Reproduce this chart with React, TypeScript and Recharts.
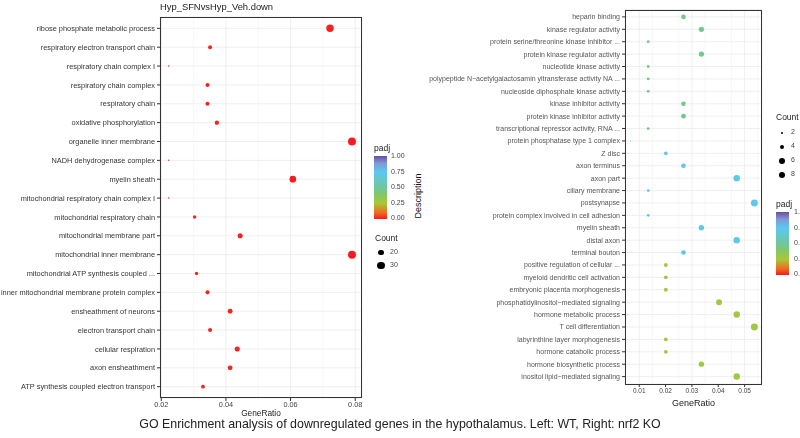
import React from 'react';
import { ScatterChart, Scatter, XAxis, YAxis, ZAxis, CartesianGrid, Cell, ReferenceLine } from 'recharts';

// left panel (WT)
const wtTerms = [
  'ribose phosphate metabolic process',
  'respiratory electron transport chain',
  'respiratory chain complex I',
  'respiratory chain complex',
  'respiratory chain',
  'oxidative phosphorylation',
  'organelle inner membrane',
  'NADH dehydrogenase complex',
  'myelin sheath',
  'mitochondrial respiratory chain complex I',
  'mitochondrial respiratory chain',
  'mitochondrial membrane part',
  'mitochondrial inner membrane',
  'mitochondrial ATP synthesis coupled ...',
  'inner mitochondrial membrane protein complex',
  'ensheathment of neurons',
  'electron transport chain',
  'cellular respiration',
  'axon ensheathment',
  'ATP synthesis coupled electron transport',
];
const wtRatio = [0.0722, 0.0351, 0.0223, 0.0343, 0.0343, 0.0372, 0.079, 0.0223, 0.0607, 0.0223, 0.0303, 0.0444, 0.079, 0.0309, 0.0343, 0.0413, 0.0351, 0.0435, 0.0413, 0.0329];
const wtCount = [33, 16, 10, 16, 16, 17, 36, 10, 28, 10, 14, 20, 36, 14, 16, 19, 16, 20, 19, 15];
const wtPadj = [0.01, 0.01, 0.02, 0.01, 0.01, 0.01, 0.0, 0.02, 0.0, 0.02, 0.01, 0.01, 0.0, 0.01, 0.01, 0.01, 0.01, 0.01, 0.01, 0.01];
const wtTicks = [0.02, 0.04, 0.06, 0.08];
const wtMinor = [0.03, 0.05, 0.07];
const wtCountLegend = [20, 30];

// right panel (nrf2 KO)
const koTerms = [
  'heparin binding',
  'kinase regulator activity',
  'protein serine/threonine kinase inhibitor ...',
  'protein kinase regulator activity',
  'nucleotide kinase activity',
  'polypeptide N\u2212acetylgalactosamin yltransferase activity NA ...',
  'nucleoside diphosphate kinase activity',
  'kinase inhibitor activity',
  'protein kinase inhibitor activity',
  'transcriptional repressor activity, RNA ...',
  'protein phosphatase type 1 complex',
  'Z disc',
  'axon terminus',
  'axon part',
  'ciliary membrane',
  'postsynapse',
  'protein complex involved in cell adhesion',
  'myelin sheath',
  'distal axon',
  'terminal bouton',
  'positive regulation of cellular ...',
  'myeloid dendritic cell activation',
  'embryonic placenta morphogenesis',
  'phosphatidylinositol\u2212mediated signaling',
  'hormone metabolic process',
  'T cell differentiation',
  'labyrinthine layer morphogenesis',
  'hormone catabolic process',
  'hormone biosynthetic process',
  'inositol lipid\u2212mediated signaling',
];
const koRatio = [
  0.0268, 0.0336, 0.0134, 0.0336, 0.0134, 0.0134, 0.0134, 0.0268, 0.0268, 0.0134,
  0.0067, 0.0201, 0.0268, 0.047, 0.0134, 0.0537, 0.0134, 0.0336, 0.047, 0.0268,
  0.0201, 0.0201, 0.0201, 0.0403, 0.047, 0.0537, 0.0201, 0.0201, 0.0336, 0.047,
];
const koCount = [4, 5, 2, 5, 2, 2, 2, 4, 4, 2, 1, 3, 4, 7, 2, 8, 2, 5, 7, 4, 3, 3, 3, 6, 7, 8, 3, 3, 5, 7];
const koPadj = [
  0.47, 0.47, 0.47, 0.47, 0.47, 0.47, 0.47, 0.47, 0.47, 0.47,
  0.73, 0.73, 0.73, 0.73, 0.73, 0.73, 0.73, 0.73, 0.73, 0.73,
  0.28, 0.28, 0.28, 0.28, 0.28, 0.28, 0.28, 0.28, 0.28, 0.28,
];
const koTicks = [0.01, 0.02, 0.03, 0.04, 0.05];
const koMinor = [0.015, 0.025, 0.035, 0.045, 0.055];
const koCountLegend = [2, 4, 6, 8];

const padjLabels = ['1.00', '0.75', '0.50', '0.25', '0.00'];

const padjStops: [number, string][] = [
  [0, '#F51B20'],
  [0.1, '#F06A22'],
  [0.25, '#A6C936'],
  [0.4, '#80C76C'],
  [0.5, '#6FC79C'],
  [0.75, '#5BC8F1'],
  [0.88, '#7F9BD8'],
  [1, '#6A4FA5'],
];

const hex = (c: string) => [1, 3, 5].map((i) => parseInt(c.slice(i, i + 2), 16));
const padjColor = (v: number) => {
  for (let i = 1; i < padjStops.length; i++) {
    const [p1, c1] = padjStops[i];
    const [p0, c0] = padjStops[i - 1];
    if (v <= p1) {
      const t = (v - p0) / (p1 - p0);
      const a = hex(c0);
      const b = hex(c1);
      return `rgb(${a.map((x, k) => Math.round(x + (b[k] - x) * t)).join(',')})`;
    }
  }
  return padjStops[padjStops.length - 1][1];
};
const gradient = `linear-gradient(to top, ${padjStops.map(([p, c]) => `${c} ${p * 100}%`).join(', ')})`;

const wtRows = wtTerms.map((term, i) => ({ term, ratio: wtRatio[i], count: wtCount[i], padj: wtPadj[i] }));
const koRows = koTerms.map((term, i) => ({ term, ratio: koRatio[i], count: koCount[i], padj: koPadj[i] }));

const FONT = '"Liberation Sans", Arial, Helvetica, sans-serif';
// own compositing layer -> grayscale text antialiasing
const LAYER: React.CSSProperties = { willChange: 'transform' };

// same count -> area mapping as the ZAxis, used for legend keys
const wtZ = { domain: [10, 36], range: [1.8, 50] };
const koZ = { domain: [1, 8], range: [0.8, 38] };
const dotDiam = (z: { domain: number[]; range: number[] }, v: number) => {
  const area = z.range[0] + ((v - z.domain[0]) / (z.domain[1] - z.domain[0])) * (z.range[1] - z.range[0]);
  return 2 * Math.sqrt(area / Math.PI);
};

const makeYTick = (fontSize: number, fill: string) => (props: any) => {
  const { x, y, payload } = props;
  return (
    <text x={x} y={y + fontSize * 0.35} textAnchor="end" fontSize={fontSize} fill={fill} fontFamily={FONT}>
      {payload.value}
    </text>
  );
};

const Frame = ({ left, top, width, height }: { left: number; top: number; width: number; height: number }) => (
  <div
    style={{
      position: 'absolute', left, top, width, height, boxSizing: 'border-box',
      border: '1px solid #333', pointerEvents: 'none',
    }}
  />
);

const ColorBar = ({ left, top, labelLeft }: { left: number; top: number; labelLeft: number }) => (
  <>
    <div style={{ position: 'absolute', left, top: top - 13, fontSize: 8.5, color: '#222', ...LAYER }}>padj</div>
    <div style={{ position: 'absolute', left, top, width: 13, height: 63, background: gradient }} />
    {padjLabels.map((l, i) => (
      <div key={l} style={{ position: 'absolute', left: labelLeft, top: top - 4 + i * 15.5, fontSize: 7, color: '#444', ...LAYER }}>{l}</div>
    ))}
  </>
);

const CountLegend = ({ left, top, values, z, first, step }: { left: number; top: number; values: number[]; z: any; first: number; step: number }) => (
  <>
    <div style={{ position: 'absolute', left, top, fontSize: 8.5, color: '#222', ...LAYER }}>Count</div>
    {values.map((v, i) => {
      const d = dotDiam(z, v);
      const cy = top + first + i * step;
      return (
        <React.Fragment key={v}>
          <div style={{ position: 'absolute', left: left + 6 - d / 2, top: cy - d / 2, width: d, height: d, borderRadius: '50%', background: '#000' }} />
          <div style={{ position: 'absolute', left: left + 15, top: cy - 5, fontSize: 7, color: '#444', ...LAYER }}>{v}</div>
        </React.Fragment>
      );
    })}
  </>
);

export default function App() {
  return (
    <div style={{ position: 'fixed', left: 0, top: 0, width: 800, height: 438, background: '#fff', fontFamily: FONT, overflow: 'hidden' }}>
      <div style={{ position: 'absolute', left: 160, top: 1, fontSize: 9.4, color: '#222', ...LAYER }}>Hyp_SFNvsHyp_Veh.down</div>

      <div style={{ position: 'absolute', left: 0, top: 0, ...LAYER }}>
        <ScatterChart width={370} height={430} margin={{ top: 17, right: 8, left: 0, bottom: 14 }}>
          <CartesianGrid stroke="#EBEBEB" strokeWidth={0.8} />
          {wtMinor.map((v) => (
            <ReferenceLine key={v} x={v} stroke="#F2F2F2" strokeWidth={0.6} />
          ))}
          <XAxis
            type="number"
            dataKey="ratio"
            domain={[0.0196, 0.0821]}
            ticks={wtTicks}
            tickFormatter={(v: number) => v.toFixed(2)}
            axisLine={false}
            tickLine={{ stroke: '#333' }}
            tickSize={3}
            tickMargin={1}
            height={18}
            tick={{ fontSize: 7.3, fill: '#444', fontFamily: FONT }}
            label={{ value: 'GeneRatio', position: 'insideBottom', offset: 0, fontSize: 8.3, fill: '#222', fontFamily: FONT }}
          />
          <YAxis
            type="category"
            dataKey="term"
            reversed
            width={160}
            axisLine={false}
            tickLine={{ stroke: '#333' }}
            tickSize={3}
            tickMargin={2}
            padding={{ top: 1.9, bottom: 1.9 }}
            interval={0}
            tick={makeYTick(7.4, '#333')}
          />
          <ZAxis type="number" dataKey="count" domain={wtZ.domain} range={wtZ.range} />
          <Scatter data={wtRows} shape="circle" isAnimationActive={false}>
            {wtRows.map((r, i) => (
              <Cell key={i} fill={padjColor(r.padj)} />
            ))}
          </Scatter>
        </ScatterChart>
      </div>
      <Frame left={160} top={17} width={202} height={381} />

      <ColorBar left={374} top={156} labelLeft={391} />
      <CountLegend left={375} top={233} values={wtCountLegend} z={wtZ} first={19.5} step={13} />

      <div
        style={{
          position: 'absolute', left: 418, top: 196, fontSize: 9, color: '#111',
          transform: 'translate(-50%, -50%) rotate(-90deg)', whiteSpace: 'nowrap',
        }}
      >
        Description
      </div>

      <div style={{ position: 'absolute', left: 420, top: 0, ...LAYER }}>
        <ScatterChart width={345} height={410} margin={{ top: 9.5, right: 3, left: 0, bottom: 4 }}>
          <CartesianGrid stroke="#EBEBEB" strokeWidth={0.8} />
          {koMinor.map((v) => (
            <ReferenceLine key={v} x={v} stroke="#F2F2F2" strokeWidth={0.6} />
          ))}
          <XAxis
            type="number"
            dataKey="ratio"
            domain={[0.0046, 0.0566]}
            ticks={koTicks}
            tickFormatter={(v: number) => v.toFixed(2)}
            axisLine={false}
            tickLine={{ stroke: '#333' }}
            tickSize={3}
            tickMargin={1}
            height={22}
            tick={{ fontSize: 6.5, fill: '#444', fontFamily: FONT }}
            label={{ value: 'GeneRatio', position: 'insideBottom', offset: 0, fontSize: 9, fill: '#222', fontFamily: FONT }}
          />
          <YAxis
            type="category"
            dataKey="term"
            reversed
            width={205}
            axisLine={false}
            tickLine={{ stroke: '#333' }}
            tickSize={3}
            tickMargin={2}
            padding={{ top: 1.2, bottom: 1.2 }}
            interval={0}
            tick={makeYTick(7, '#555')}
          />
          <ZAxis type="number" dataKey="count" domain={koZ.domain} range={koZ.range} />
          <Scatter data={koRows} shape="circle" isAnimationActive={false}>
            {koRows.map((r, i) => (
              <Cell key={i} fill={padjColor(r.padj)} />
            ))}
          </Scatter>
        </ScatterChart>
      </div>
      <Frame left={625} top={9.5} width={137} height={375} />

      <CountLegend left={776} top={112} values={koCountLegend} z={koZ} first={21} step={14} />
      <ColorBar left={776} top={212} labelLeft={794} />

      <div
        style={{
          position: 'absolute', left: 0, width: 800, top: 418, textAlign: 'center',
          fontSize: 12.4, lineHeight: '12px', color: '#222', ...LAYER,
        }}
      >
        GO Enrichment analysis of downregulated genes in the hypothalamus. Left: WT, Right: nrf2 KO
      </div>
    </div>
  );
}
